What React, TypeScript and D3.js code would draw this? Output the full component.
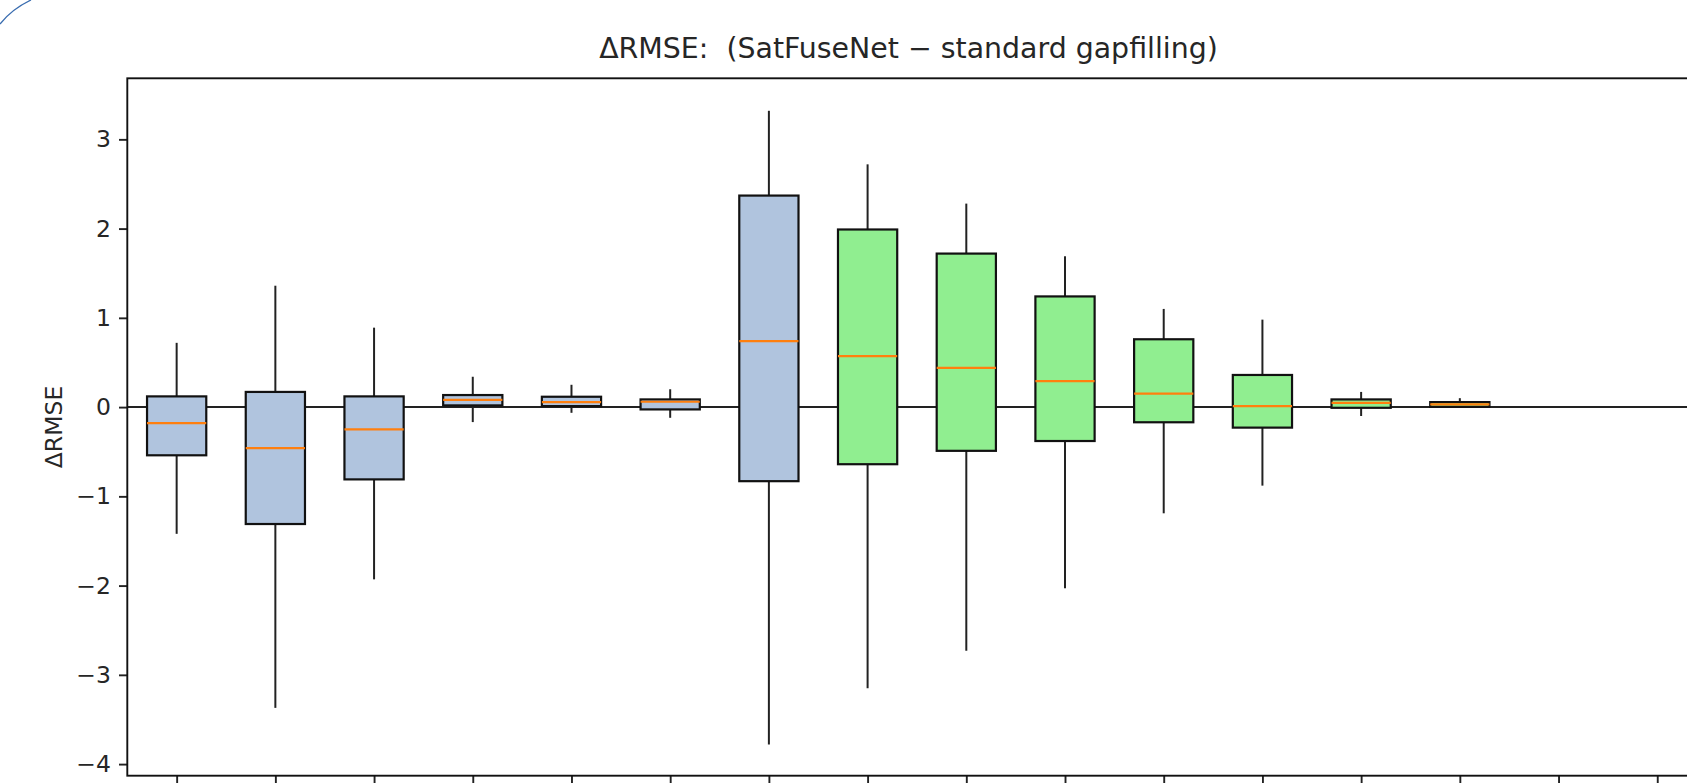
import React, { useEffect, useRef } from "react";
import * as d3 from "d3";

// one box per position (positions 15 and 16 are empty)
const positions = [1, 2, 3, 4, 5, 6, 7, 8, 9, 10, 11, 12, 13, 14, 15, 16];
const whiskerHigh = [0.72, 1.36, 0.89, 0.34, 0.25, 0.2, 3.32, 2.72, 2.28, 1.69, 1.1, 0.98, 0.17, 0.1, null, null];
const q3 = [0.12, 0.17, 0.12, 0.135, 0.116, 0.086, 2.37, 1.99, 1.72, 1.24, 0.76, 0.36, 0.086, 0.056, null, null];
const medians = [-0.18, -0.46, -0.25, 0.082, 0.056, 0.06, 0.74, 0.57, 0.44, 0.29, 0.15, 0.01, 0.048, 0.03, null, null];
const q1 = [-0.54, -1.31, -0.81, 0.019, 0.011, -0.026, -0.83, -0.64, -0.49, -0.38, -0.17, -0.23, -0.008, 0.003, null, null];
const whiskerLow = [-1.42, -3.37, -1.93, -0.168, -0.064, -0.12, -3.78, -3.15, -2.73, -2.03, -1.19, -0.88, -0.1, -0.005, null, null];
const groups = ["std", "std", "std", "std", "std", "std", "std", "fuse", "fuse", "fuse", "fuse", "fuse", "fuse", "fuse", "fuse", "fuse"];
const yTicks = [-4, -3, -2, -1, 0, 1, 2, 3];

const title = "ΔRMSE:  (SatFuseNet − standard gapfilling)";
const yLabel = "ΔRMSE";

const App = () => {
  const svgRef = useRef<SVGSVGElement>(null);

  useEffect(() => {
    const W = 1687;
    const H = 783;
    const left = 127.3;
    const right = 1706.6;
    const top = 78.3;
    const bottom = 775.7;
    const font = "DejaVu Sans, sans-serif";

    const svg = d3.select(svgRef.current).attr("width", W).attr("height", H);
    svg.selectAll("*").remove();

    svg.append("rect").attr("width", W).attr("height", H).attr("fill", "#fff");

    const x = d3.scaleLinear().domain([0.5, 16.5]).range([left, right]);
    const y = d3.scaleLinear().domain([-4.13, 3.684]).range([bottom, top]);
    const boxW = x(1.6) - x(1);
    const fill = { std: "#b0c4de", fuse: "#90ee90" };

    // zero reference line, under the boxes
    svg
      .append("line")
      .attr("x1", left)
      .attr("x2", right)
      .attr("y1", y(0))
      .attr("y2", y(0))
      .attr("stroke", "#222")
      .attr("stroke-width", 2);

    const data = positions
      .map((p, i) => ({ p, hi: whiskerHigh[i], q3: q3[i], med: medians[i], q1: q1[i], lo: whiskerLow[i], g: groups[i] }))
      .filter((d) => d.med !== null);

    const box = svg.append("g").selectAll("g").data(data).join("g");

    box
      .append("line")
      .attr("x1", (d) => x(d.p))
      .attr("x2", (d) => x(d.p))
      .attr("y1", (d) => y(d.hi))
      .attr("y2", (d) => y(d.q3))
      .attr("stroke", "#222")
      .attr("stroke-width", 2);
    box
      .append("line")
      .attr("x1", (d) => x(d.p))
      .attr("x2", (d) => x(d.p))
      .attr("y1", (d) => y(d.q1))
      .attr("y2", (d) => y(d.lo))
      .attr("stroke", "#222")
      .attr("stroke-width", 2);
    box
      .append("rect")
      .attr("x", (d) => x(d.p) - boxW / 2)
      .attr("width", boxW)
      .attr("y", (d) => y(d.q3))
      .attr("height", (d) => y(d.q1) - y(d.q3))
      .attr("fill", (d) => fill[d.g])
      .attr("stroke", "#111")
      .attr("stroke-width", 2.2);
    box
      .append("line")
      .attr("x1", (d) => x(d.p) - boxW / 2)
      .attr("x2", (d) => x(d.p) + boxW / 2)
      .attr("y1", (d) => y(d.med))
      .attr("y2", (d) => y(d.med))
      .attr("stroke", "#ff7f0e")
      .attr("stroke-width", 2.2);

    // y axis
    const yAxis = d3
      .axisLeft(y)
      .tickValues(yTicks)
      .tickSize(8.3)
      .tickSizeOuter(0)
      .tickPadding(8)
      .tickFormat((d) => String(d).replace("-", "−"));
    const gy = svg.append("g").attr("transform", `translate(${left},0)`).call(yAxis);
    gy.select(".domain").remove();
    gy.selectAll("line").attr("stroke", "#222").attr("stroke-width", 1.9);
    gy.selectAll("text").attr("font-family", font).attr("font-size", 23.5).attr("fill", "#262626");

    // x ticks (labels fall below the cropped picture)
    const xAxis = d3.axisBottom(x).tickValues(positions).tickSize(8.3).tickSizeOuter(0).tickFormat(() => "");
    const gx = svg.append("g").attr("transform", `translate(0,${bottom})`).call(xAxis);
    gx.select(".domain").remove();
    gx.selectAll("line").attr("stroke", "#222").attr("stroke-width", 1.9);

    // spines
    svg
      .append("rect")
      .attr("x", left)
      .attr("y", top)
      .attr("width", right - left)
      .attr("height", bottom - top)
      .attr("fill", "none")
      .attr("stroke", "#111")
      .attr("stroke-width", 1.9);

    svg
      .append("text")
      .attr("x", 908.5)
      .attr("y", 57.5)
      .attr("text-anchor", "middle")
      .attr("font-family", font)
      .attr("font-size", 28.4)
      .attr("fill", "#262626")
      .style("white-space", "pre")
      .text(title);

    svg
      .append("text")
      .attr("transform", `translate(62,${(top + bottom) / 2}) rotate(-90)`)
      .attr("text-anchor", "middle")
      .attr("font-family", font)
      .attr("font-size", 23.5)
      .attr("fill", "#262626")
      .text(yLabel);

    // stray arc in the top-left corner of the screenshot
    svg
      .append("path")
      .attr("d", "M0,24 Q12,9 31,0")
      .attr("fill", "none")
      .attr("stroke", "#3a6db0")
      .attr("stroke-width", 1.3);
  }, []);

  return <svg ref={svgRef} style={{ position: "absolute", left: 0, top: 0, display: "block" }} />;
};

export default App;
